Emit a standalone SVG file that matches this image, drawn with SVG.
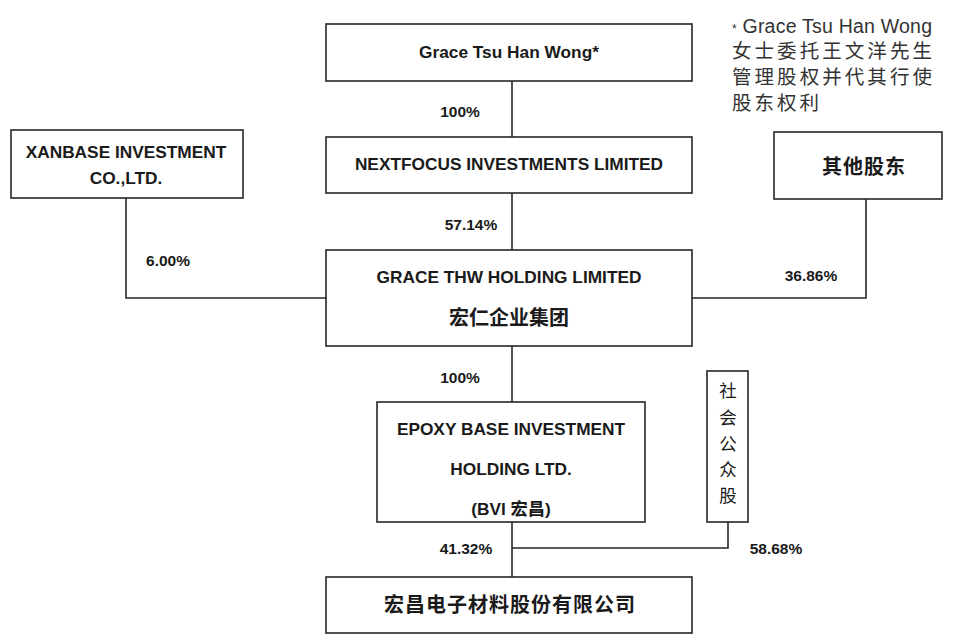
<svg xmlns="http://www.w3.org/2000/svg" width="953" height="634" viewBox="0 0 953 634">
<style>
.box{fill:#fff;stroke:#262626;stroke-width:1.6}
.ln{fill:none;stroke:#262626;stroke-width:1.6}
.t{font-family:"Liberation Sans","Noto Sans CJK SC",sans-serif;font-weight:bold;font-size:17.3px;fill:#1a1a1a;text-anchor:middle}
.c{font-family:"Noto Sans CJK SC",sans-serif;font-weight:bold;font-size:20px;fill:#1a1a1a;text-anchor:middle}
.v{font-family:"Noto Sans CJK SC",sans-serif;font-weight:normal;font-size:17.5px;fill:#1a1a1a;text-anchor:middle}
.p{font-family:"Liberation Sans",sans-serif;font-weight:bold;font-size:15.5px;fill:#1a1a1a;text-anchor:middle}
.n{font-family:"Liberation Sans","Noto Sans CJK SC",sans-serif;font-size:19.5px;fill:#333}
</style>
<rect width="953" height="634" fill="#fff"/>
<g id="connectors">
<line class="ln" x1="512" y1="81" x2="512" y2="137"/>
<line class="ln" x1="512" y1="193" x2="512" y2="250"/>
<polyline class="ln" points="126,198 126,298 326,298"/>
<polyline class="ln" points="866,199 866,298 692,298"/>
<line class="ln" x1="512" y1="346" x2="512" y2="402"/>
<line class="ln" x1="512" y1="522" x2="512" y2="577"/>
<polyline class="ln" points="512,548 728,548 728,522"/>
<text class="p" x="460" y="117">100%</text>
<text class="p" x="471" y="230">57.14%</text>
<text class="p" x="168" y="266">6.00%</text>
<text class="p" x="811" y="281">36.86%</text>
<text class="p" x="460" y="383">100%</text>
<text class="p" x="466" y="554">41.32%</text>
<text class="p" x="776" y="554">58.68%</text>
</g>
<g id="note">
<text class="n" x="732" y="33" textLength="200" lengthAdjust="spacing"><tspan font-size="12">*</tspan> Grace Tsu Han Wong</text>
<text class="n" x="732" y="58" textLength="200" lengthAdjust="spacing">女士委托王文洋先生</text>
<text class="n" x="732" y="84" textLength="200" lengthAdjust="spacing">管理股权并代其行使</text>
<text class="n" x="732" y="110" textLength="87" lengthAdjust="spacing">股东权利</text>
</g>
<g id="grace">
<rect class="box" x="326" y="24" width="366" height="57"/>
<text class="t" x="509" y="58">Grace Tsu Han Wong*</text>
</g>
<g id="nextfocus">
<rect class="box" x="326" y="137" width="366" height="56"/>
<text class="t" x="509" y="170">NEXTFOCUS INVESTMENTS  LIMITED</text>
</g>
<g id="xanbase">
<rect class="box" x="11" y="130" width="232" height="68"/>
<text class="t" x="126" y="158">XANBASE INVESTMENT</text>
<text class="t" x="126" y="184">CO.,LTD.</text>
</g>
<g id="others">
<rect class="box" x="774" y="132" width="168" height="67"/>
<text class="c" x="864" y="174" letter-spacing="1">其他股东</text>
</g>
<g id="gracethw">
<rect class="box" x="326" y="250" width="366" height="96"/>
<text class="t" x="509" y="283">GRACE THW HOLDING LIMITED</text>
<text class="c" x="509" y="325">宏仁企业集团</text>
</g>
<g id="epoxy">
<rect class="box" x="377" y="402" width="268" height="120"/>
<text class="t" x="511" y="435">EPOXY BASE INVESTMENT</text>
<text class="t" x="511" y="475">HOLDING LTD.</text>
<text class="t" x="511" y="515">(BVI 宏昌)</text>
</g>
<g id="public">
<rect class="box" x="707" y="371" width="41" height="151"/>
<text class="v" x="728" y="397">社</text>
<text class="v" x="728" y="424">会</text>
<text class="v" x="728" y="450">公</text>
<text class="v" x="728" y="476">众</text>
<text class="v" x="728" y="502">股</text>
</g>
<g id="hongchang">
<rect class="box" x="326" y="577" width="366" height="56"/>
<text class="c" x="510" y="612" letter-spacing="1">宏昌电子材料股份有限公司</text>
</g>
</svg>
